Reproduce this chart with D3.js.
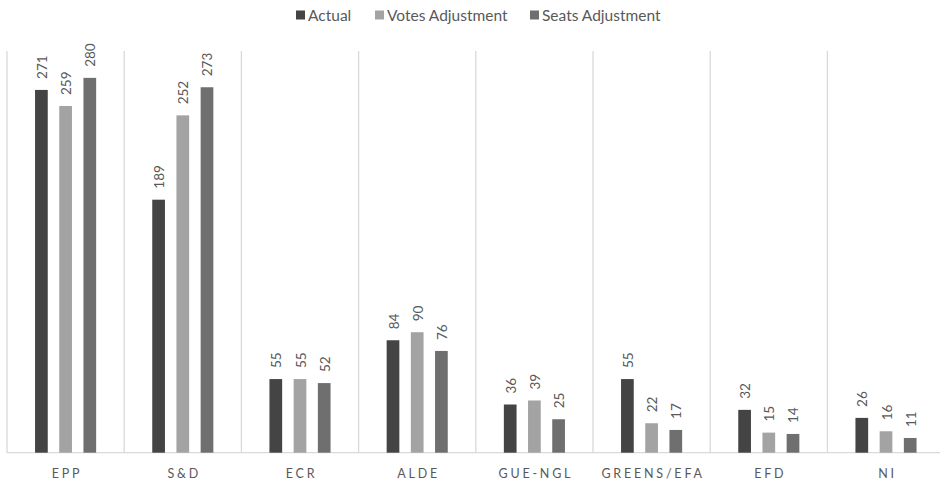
<!DOCTYPE html>
<html><head><meta charset="utf-8">
<script src="https://cdn.jsdelivr.net/npm/d3@7"></script>
<style>
body{margin:0;background:#fff;}
svg{display:block;font-family:Lato,"Open Sans",sans-serif;}
</style></head>
<body><svg id="chart" width="940" height="484"></svg>
<script>
const categories = ["EPP","S&D","ECR","ALDE","GUE-NGL","GREENS/EFA","EFD","NI"];
const seriesNames = ["Actual","Votes Adjustment","Seats Adjustment"];
const actual = [271,189,55,84,36,55,32,26];
const votesAdj = [259,252,55,90,39,22,15,16];
const seatsAdj = [280,273,52,76,25,17,14,11];
const colors = ["#444444","#a3a3a3","#6f6f6f"];

const seriesValues = [actual, votesAdj, seatsAdj];
const svg = d3.select("#chart");
const x = d3.scaleBand().domain(categories).range([7, 944.6]).padding(0);
const cw = x.bandwidth();
const groupW = 61.1;
const xi = d3.scaleBand().domain(seriesNames)
  .range([(cw-groupW)/2, (cw+groupW)/2]).paddingInner(0.475).paddingOuter(0);
const y = d3.scaleLinear().domain([0,300]).range([452.7, 51.1]);

// vertical separators
const bounds = categories.map(c => x(c)).concat([x(categories[categories.length-1]) + cw]);
svg.append("g").selectAll("line").data(bounds).join("line")
  .attr("x1", d=>d).attr("x2", d=>d)
  .attr("y1", y(300)).attr("y2", y(0))
  .attr("stroke", "#d9d9d9").attr("stroke-width", 1.3);

// baseline
svg.append("line").attr("x1", x.range()[0]).attr("x2", x.range()[1])
  .attr("y1", y(0)).attr("y2", y(0)).attr("stroke", "#d9d9d9").attr("stroke-width", 1.3);

const data = [];
categories.forEach((c, i) => {
  seriesNames.forEach((s, j) => data.push({c, s, j, v: seriesValues[j][i]}));
});

svg.append("g").selectAll("rect").data(data).join("rect")
  .attr("x", d => x(d.c) + xi(d.s))
  .attr("width", xi.bandwidth())
  .attr("y", d => y(d.v))
  .attr("height", d => y(0) - y(d.v))
  .attr("fill", d => colors[d.j]);

svg.append("g").selectAll("text").data(data).join("text")
  .attr("transform", d => `translate(${x(d.c) + xi(d.s) + xi.bandwidth()/2 + 0.5},${y(d.v) - 11}) rotate(-90)`)
  .attr("text-anchor", "start")
  .attr("dominant-baseline", "central")
  .attr("font-size", 13.5)
  .attr("fill", "#595959")
  .text(d => d.v);

// category axis labels
svg.append("g").selectAll("text").data(categories).join("text")
  .attr("x", d => x(d) + cw/2 + 1.5)
  .attr("y", 473)
  .attr("text-anchor", "middle")
  .attr("dominant-baseline", "central")
  .attr("font-size", 12.5)
  .attr("letter-spacing", 2.8)
  .attr("fill", "#595959")
  .text(d => d);

// legend
const legendX = [296, 375, 530];
const lg = svg.append("g").selectAll("g").data(seriesNames).join("g")
  .attr("transform", (d,i) => `translate(${legendX[i]},15)`);
lg.append("rect").attr("x",0).attr("y",-4.5).attr("width",9).attr("height",9)
  .attr("fill", (d,i) => colors[i]);
lg.append("text").attr("x", 12).attr("y", 0).attr("dominant-baseline","central")
  .attr("font-size", 15.5).attr("fill", "#595959").text(d => d);
</script></body></html>
